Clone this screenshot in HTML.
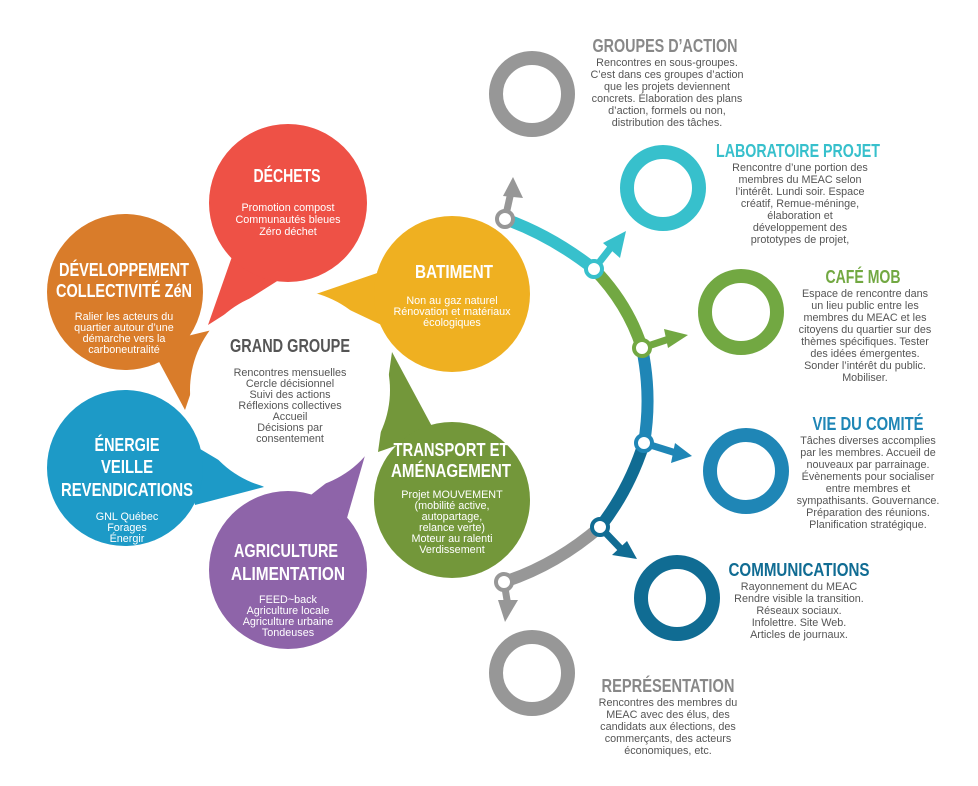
<!DOCTYPE html>
<html><head><meta charset="utf-8"><style>
body{margin:0;background:#fff}
svg{display:block}
.t{font-family:"Liberation Sans Narrow","Liberation Sans",sans-serif;font-weight:bold;font-size:18px;text-anchor:middle}
.b{font-family:"Liberation Sans",sans-serif;font-size:10.8px;text-anchor:middle;fill:#fff}
.g{font-family:"Liberation Sans",sans-serif;font-size:10.8px;text-anchor:middle;fill:#555}
</style></head><body>
<svg width="978" height="786" viewBox="0 0 978 786" xmlns="http://www.w3.org/2000/svg">
<polygon points="235,248 208,325 282,278 290,255" fill="#ee5146"/>
<polygon points="392,268 316,294 392,330" fill="#efb021"/>
<polygon points="150,345 185,410 212,330" fill="#d97c2a"/>
<polygon points="392,352 435,432 378,452" fill="#73973a"/>
<polygon points="185,440 264,487 195,505" fill="#1d9ac7"/>
<polygon points="366,452 345,525 298,505" fill="#8e64a9"/>
<circle cx="290" cy="390" r="100" fill="#fff"/>
<circle cx="288" cy="203" r="79" fill="#ee5146"/>
<circle cx="125" cy="292" r="78" fill="#d97c2a"/>
<circle cx="452" cy="294" r="78" fill="#efb021"/>
<circle cx="452" cy="500" r="78" fill="#73973a"/>
<circle cx="125" cy="468" r="78" fill="#1d9ac7"/>
<circle cx="288" cy="570" r="79" fill="#8e64a9"/>

<g lengthAdjust="spacingAndGlyphs">
<text class="t" x="287" y="182" fill="#fff" textLength="67" lengthAdjust="spacingAndGlyphs">DÉCHETS</text>
<text class="t" x="124" y="276" fill="#fff" textLength="130" lengthAdjust="spacingAndGlyphs">DÉVELOPPEMENT</text>
<text class="t" x="124" y="297" fill="#fff" textLength="136" lengthAdjust="spacingAndGlyphs">COLLECTIVITÉ ZéN</text>
<text class="t" x="454" y="278" fill="#fff" textLength="78" lengthAdjust="spacingAndGlyphs">BATIMENT</text>
<text class="t" x="290" y="352" fill="#555" textLength="120" lengthAdjust="spacingAndGlyphs">GRAND GROUPE</text>
<text class="t" x="127" y="451" fill="#fff" textLength="65" lengthAdjust="spacingAndGlyphs">ÉNERGIE</text>
<text class="t" x="127" y="473" fill="#fff" textLength="52" lengthAdjust="spacingAndGlyphs">VEILLE</text>
<text class="t" x="127" y="496" fill="#fff" textLength="132" lengthAdjust="spacingAndGlyphs">REVENDICATIONS</text>
<text class="t" x="451" y="456" fill="#fff" textLength="115" lengthAdjust="spacingAndGlyphs">TRANSPORT ET</text>
<text class="t" x="451" y="477" fill="#fff" textLength="120" lengthAdjust="spacingAndGlyphs">AMÉNAGEMENT</text>
<text class="t" x="286" y="557" fill="#fff" textLength="104" lengthAdjust="spacingAndGlyphs">AGRICULTURE</text>
<text class="t" x="288" y="580" fill="#fff" textLength="114" lengthAdjust="spacingAndGlyphs">ALIMENTATION</text>
</g>

<text class="b" x="288" y="211">Promotion compost</text>
<text class="b" x="288" y="223">Communautés bleues</text>
<text class="b" x="288" y="235">Zéro déchet</text>

<text class="b" x="124" y="320">Ralier les acteurs du</text>
<text class="b" x="124" y="331">quartier autour d’une</text>
<text class="b" x="124" y="342">démarche vers la</text>
<text class="b" x="124" y="353">carboneutralité</text>

<text class="b" x="452" y="304">Non au gaz naturel</text>
<text class="b" x="452" y="315">Rénovation et matériaux</text>
<text class="b" x="452" y="326">écologiques</text>

<text class="g" x="290" y="376">Rencontres mensuelles</text>
<text class="g" x="290" y="387">Cercle décisionnel</text>
<text class="g" x="290" y="398">Suivi des actions</text>
<text class="g" x="290" y="409">Réflexions collectives</text>
<text class="g" x="290" y="420">Accueil</text>
<text class="g" x="290" y="431">Décisions par</text>
<text class="g" x="290" y="442">consentement</text>

<text class="b" x="127" y="520">GNL Québec</text>
<text class="b" x="127" y="531">Forages</text>
<text class="b" x="127" y="542">Énergir</text>

<text class="b" x="452" y="498">Projet MOUVEMENT</text>
<text class="b" x="452" y="509">(mobilité active,</text>
<text class="b" x="452" y="520">autopartage,</text>
<text class="b" x="452" y="531">relance verte)</text>
<text class="b" x="452" y="542">Moteur au ralenti</text>
<text class="b" x="452" y="553">Verdissement</text>

<text class="b" x="288" y="603">FEED~back</text>
<text class="b" x="288" y="614">Agriculture locale</text>
<text class="b" x="288" y="625">Agriculture urbaine</text>
<text class="b" x="288" y="636">Tondeuses</text>

<g fill="none" stroke-width="12">
<path d="M505,219 Q552,236 594,269" stroke="#37c0cc"/>
<path d="M594,269 Q628,304 642,348" stroke="#72a842"/>
<path d="M642,348 Q652,396 644,443" stroke="#1f86b6"/>
<path d="M644,443 Q629,490 600,527" stroke="#106c93"/>
<path d="M600,527 Q556,565 504,582" stroke="#979797"/>
</g>
<g stroke-width="7" fill="none">
<line x1="505" y1="219" x2="511" y2="192" stroke="#979797"/>
<line x1="594" y1="269" x2="612" y2="246" stroke="#37c0cc"/>
<line x1="642" y1="348" x2="672" y2="338" stroke="#72a842"/>
<line x1="644" y1="443" x2="676" y2="453" stroke="#1f86b6"/>
<line x1="600" y1="527" x2="622" y2="550" stroke="#106c93"/>
<line x1="504" y1="582" x2="508" y2="606" stroke="#979797"/>
</g>
<polygon points="513,177 523,198 503,196" fill="#979797"/>
<polygon points="626,231 620,258 603,243" fill="#37c0cc"/>
<polygon points="688,335 668,348 664,329" fill="#72a842"/>
<polygon points="692,456 671,463 675,443" fill="#1f86b6"/>
<polygon points="637,559 612,555 627,541" fill="#106c93"/>
<polygon points="505,622 498,600 518,600" fill="#979797"/>
<g fill="#fff" stroke-width="4">
<circle cx="505" cy="219" r="8" stroke="#979797"/>
<circle cx="594" cy="269" r="8" stroke="#37c0cc"/>
<circle cx="642" cy="348" r="8" stroke="#72a842"/>
<circle cx="644" cy="443" r="8" stroke="#1f86b6"/>
<circle cx="600" cy="527" r="8" stroke="#106c93"/>
<circle cx="504" cy="582" r="8" stroke="#979797"/>
</g>
<g fill="none" stroke-width="14">
<circle cx="532" cy="94" r="36" stroke="#979797"/>
<circle cx="663" cy="188" r="36" stroke="#37c0cc"/>
<circle cx="741" cy="312" r="36" stroke="#72a842"/>
<circle cx="746" cy="471" r="36" stroke="#1f86b6"/>
<circle cx="677" cy="598" r="36" stroke="#106c93"/>
<circle cx="532" cy="673" r="36" stroke="#979797"/>
</g>

<text class="t" x="665" y="52" fill="#888" textLength="145" lengthAdjust="spacingAndGlyphs">GROUPES D’ACTION</text>
<text class="g" x="667" y="66">Rencontres en sous-groupes.</text>
<text class="g" x="667" y="78">C’est dans ces groupes d’action</text>
<text class="g" x="667" y="90">que les projets deviennent</text>
<text class="g" x="667" y="102">concrets. Élaboration des plans</text>
<text class="g" x="667" y="114">d’action, formels ou non,</text>
<text class="g" x="667" y="126">distribution des tâches.</text>

<text class="t" x="798" y="157" fill="#37c0cc" textLength="164" lengthAdjust="spacingAndGlyphs">LABORATOIRE PROJET</text>
<text class="g" x="800" y="171">Rencontre d’une portion des</text>
<text class="g" x="800" y="183">membres du MEAC selon</text>
<text class="g" x="800" y="195">l’intérêt. Lundi soir. Espace</text>
<text class="g" x="800" y="207">créatif, Remue-méninge,</text>
<text class="g" x="800" y="219">élaboration et</text>
<text class="g" x="800" y="231">développement des</text>
<text class="g" x="800" y="243">prototypes de projet,</text>

<text class="t" x="863" y="283" fill="#72a842" textLength="75" lengthAdjust="spacingAndGlyphs">CAFÉ MOB</text>
<text class="g" x="865" y="297">Espace de rencontre dans</text>
<text class="g" x="865" y="309">un lieu public entre les</text>
<text class="g" x="865" y="321">membres du MEAC et les</text>
<text class="g" x="865" y="333">citoyens du quartier sur des</text>
<text class="g" x="865" y="345">thèmes spécifiques. Tester</text>
<text class="g" x="865" y="357">des idées émergentes.</text>
<text class="g" x="865" y="369">Sonder l’intérêt du public.</text>
<text class="g" x="865" y="381">Mobiliser.</text>

<text class="t" x="868" y="430" fill="#1f86b6" textLength="111" lengthAdjust="spacingAndGlyphs">VIE DU COMITÉ</text>
<text class="g" x="868" y="444">Tâches diverses accomplies</text>
<text class="g" x="868" y="456">par les membres. Accueil de</text>
<text class="g" x="868" y="468">nouveaux par parrainage.</text>
<text class="g" x="868" y="480">Évènements pour socialiser</text>
<text class="g" x="868" y="492">entre membres et</text>
<text class="g" x="868" y="504">sympathisants. Gouvernance.</text>
<text class="g" x="868" y="516">Préparation des réunions.</text>
<text class="g" x="868" y="528">Planification stratégique.</text>

<text class="t" x="799" y="576" fill="#106c93" textLength="141" lengthAdjust="spacingAndGlyphs">COMMUNICATIONS</text>
<text class="g" x="799" y="590">Rayonnement du MEAC</text>
<text class="g" x="799" y="602">Rendre visible la transition.</text>
<text class="g" x="799" y="614">Réseaux sociaux.</text>
<text class="g" x="799" y="626">Infolettre. Site Web.</text>
<text class="g" x="799" y="638">Articles de journaux.</text>

<text class="t" x="668" y="692" fill="#888" textLength="133" lengthAdjust="spacingAndGlyphs">REPRÉSENTATION</text>
<text class="g" x="668" y="706">Rencontres des membres du</text>
<text class="g" x="668" y="718">MEAC avec des élus, des</text>
<text class="g" x="668" y="730">candidats aux élections, des</text>
<text class="g" x="668" y="742">commerçants, des acteurs</text>
<text class="g" x="668" y="754">économiques, etc.</text>
</svg>
</body></html>
